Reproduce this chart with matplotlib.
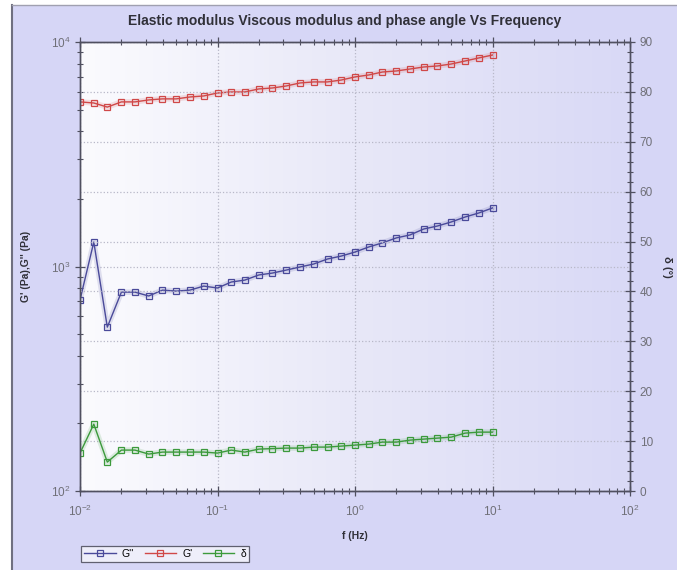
import numpy as np
import matplotlib
matplotlib.use("Agg")
import matplotlib.pyplot as plt
from matplotlib.ticker import LogLocator, MultipleLocator, NullFormatter
from matplotlib.patches import Rectangle
from matplotlib.lines import Line2D
from matplotlib.colors import LinearSegmentedColormap

plt.rcParams['font.family'] = ['Liberation Sans', 'DejaVu Sans']

# ---------------- data ----------------
freq = [0.01, 0.0126, 0.0158, 0.02, 0.0251, 0.0316, 0.0398, 0.0501, 0.0631, 0.0794,
        0.1, 0.126, 0.158, 0.2, 0.251, 0.316, 0.398, 0.501, 0.631, 0.794,
        1.0, 1.26, 1.58, 2.0, 2.51, 3.16, 3.98, 5.01, 6.31, 7.94, 10.0]
g_elastic = [5410, 5350, 5130, 5410, 5410, 5520, 5580, 5580, 5690, 5750,
             5930, 5990, 5990, 6180, 6240, 6370, 6570, 6640, 6640, 6770,
             6990, 7130, 7350, 7430, 7580, 7740, 7820, 7980, 8230, 8490, 8750]
g_viscous = [710, 1285, 537, 769, 769, 739, 785, 777, 785, 818,
             802, 853, 870, 917, 935, 964, 995, 1026, 1080, 1113,
             1160, 1222, 1274, 1341, 1382, 1469, 1515, 1579, 1661, 1731, 1823]
delta = [7.6, 13.4, 5.8, 8.2, 8.2, 7.4, 7.8, 7.8, 7.8, 7.8,
         7.6, 8.2, 7.8, 8.4, 8.5, 8.6, 8.6, 8.8, 8.8, 9.0,
         9.2, 9.4, 9.8, 9.8, 10.2, 10.4, 10.6, 10.8, 11.6, 11.8, 11.8]

title = "Elastic modulus Viscous modulus and phase angle Vs Frequency"
legend_labels = ["G''", "G'", "δ"]

# ---------------- figure ----------------
W, H = 677, 570
fig = plt.figure(figsize=(W / 100, H / 100), dpi=100, facecolor='white')

bg_col = '#d6d6f6'
fig.patches.append(Rectangle((12 / W, 0), 1 - 12 / W, 1 - 5 / H, transform=fig.transFigure,
                             facecolor=bg_col, edgecolor='none', zorder=-10))
fig.add_artist(Line2D([12 / W, 12 / W], [0, 1 - 5 / H], transform=fig.transFigure,
                      color='#707080', lw=1.5, zorder=-9))
fig.add_artist(Line2D([12 / W, 1], [1 - 5 / H, 1 - 5 / H], transform=fig.transFigure,
                      color='#a0a0b0', lw=1.0, zorder=-9))

left, right, top, bottom = 80, 630, 42, 491
pos = [left / W, 1 - bottom / H, (right - left) / W, (bottom - top) / H]

# gradient background of plot area
bgax = fig.add_axes(pos, zorder=0)
grad = np.linspace(0, 1, 256)[None, :]
cmap = LinearSegmentedColormap.from_list('g', ['#fbfbfe', '#e8e8f8', '#d9d9f6'])
bgax.imshow(grad, aspect='auto', cmap=cmap, extent=(0, 1, 0, 1))
bgax.set_axis_off()

ax = fig.add_axes(pos, zorder=1)
ax.patch.set_visible(False)
ax2 = ax.twinx()

blue = '#4a4a9a'
red = '#d04848'
green = '#3c9a3c'
ms = 5

for ys, c in [(g_viscous, blue), (g_elastic, red)]:
    ax.plot(freq, ys, color=c, lw=4, alpha=0.15, solid_capstyle='round')
l1, = ax.plot(freq, g_viscous, color=blue, lw=1.0, marker='s', ms=ms, mfc='none', mew=0.9)
l2, = ax.plot(freq, g_elastic, color=red, lw=1.0, marker='s', ms=ms, mfc='none', mew=0.9)
ax2.plot(freq, delta, color=green, lw=4, alpha=0.15, solid_capstyle='round')
l3, = ax2.plot(freq, delta, color=green, lw=1.0, marker='s', ms=ms, mfc='none', mew=0.9)

ax.set_xscale('log')
ax.set_yscale('log')
ax.set_xlim(1e-2, 1e2)
ax.set_ylim(1e2, 1e4)
ax2.set_ylim(0, 90)

ax.xaxis.set_major_locator(LogLocator(base=10, numticks=10))
ax.xaxis.set_minor_locator(LogLocator(base=10, subs=np.arange(2, 10), numticks=20))
ax.xaxis.set_minor_formatter(NullFormatter())
ax.yaxis.set_major_locator(LogLocator(base=10, numticks=10))
ax.yaxis.set_minor_locator(LogLocator(base=10, subs=np.arange(2, 10), numticks=20))
ax.yaxis.set_minor_formatter(NullFormatter())
ax2.yaxis.set_major_locator(MultipleLocator(10))
ax2.yaxis.set_minor_locator(MultipleLocator(2))

grid_kw = dict(color='#b8b8c8', ls=':', lw=0.9)
ax.grid(True, which='major', axis='both', **grid_kw)
ax2.grid(True, which='major', axis='y', **grid_kw)

axis_col = '#505060'
tick_lab = '#707078'
for a in (ax, ax2):
    for s in a.spines.values():
        s.set_color(axis_col)
        s.set_linewidth(1.0)
ax.tick_params(which='both', direction='inout', colors=axis_col, labelcolor=tick_lab,
               labelsize=8.5, top=True, right=False)
ax.tick_params(which='major', length=7, width=0.9)
ax.tick_params(which='minor', length=4, width=0.8)
ax.tick_params(axis='x', pad=6)
ax2.tick_params(which='both', direction='inout', colors=axis_col, labelcolor=tick_lab,
                labelsize=8.5)
ax2.tick_params(which='major', length=7, width=0.9)
ax2.tick_params(which='minor', length=4, width=0.8)

ax.set_xlabel('f (Hz)', fontsize=7.5, fontweight='bold', color='#303038', labelpad=8)
ax.set_ylabel("G' (Pa),G'' (Pa)", fontsize=7.5, fontweight='bold', color='#303038', labelpad=14)
ax2.set_ylabel('δ (°)', fontsize=8, fontweight='bold', color='#303038', rotation=270, labelpad=14)

fig.text((left + right) / 2 / W - 10 / W, 1 - 21 / H, title, ha='center', va='center',
         fontsize=10, fontweight='bold', color='#303038')

leg = fig.legend([l1, l2, l3], legend_labels, ncol=3, loc='lower left',
                 bbox_to_anchor=(76 / W, 3 / H), fontsize=7.5, frameon=True,
                 fancybox=False, edgecolor='#606070', facecolor='#eeeefa', framealpha=1,
                 handlelength=3.0, handletextpad=0.6, columnspacing=1.0,
                 borderpad=0.3, markerscale=0.9)
leg.get_frame().set_linewidth(0.9)

fig.savefig('out.png', dpi=100, facecolor=fig.get_facecolor())
